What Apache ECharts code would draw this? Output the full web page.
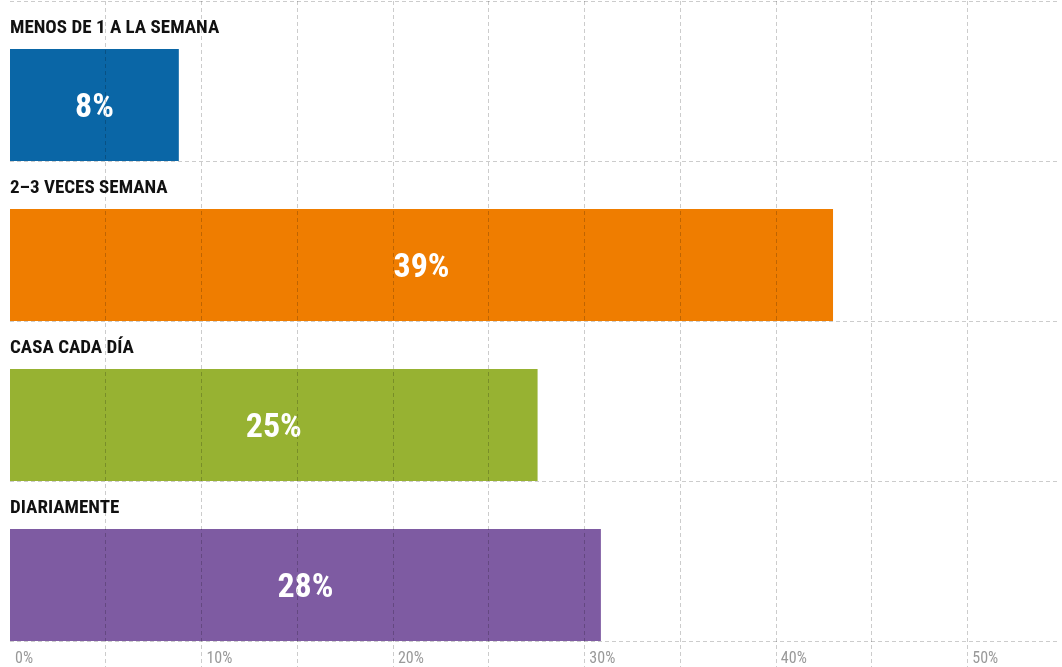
<!DOCTYPE html>
<html>
<head>
<meta charset="utf-8">
<script src="https://cdn.jsdelivr.net/npm/echarts@6/dist/echarts.min.js"></script>
<style>
  html, body { margin: 0; padding: 0; background: #fff; }
  #chart { width: 1062px; height: 667px; }
</style>
</head>
<body>
<div id="chart"></div>
<script>
const categories = ['MENOS DE 1 A LA SEMANA', '2–3 VECES SEMANA', 'CASA CADA DÍA', 'DIARIAMENTE'];
const values = [8, 39, 25, 28];
const colors = ['#0a66a6', '#ef7d00', '#97b232', '#7e5ba2'];

const font = '"Roboto Condensed", "DejaVu Sans Condensed", sans-serif';
const gridLine = { show: true, lineStyle: { color: 'rgba(0,0,0,0.2)', type: [4, 3], width: 1 } };

const chart = echarts.init(document.getElementById('chart'), null, { renderer: 'canvas' });

chart.setOption({
  animation: false,
  textStyle: { fontFamily: font },
  grid: [
    { left: 10, right: 0, top: 25, height: 640 },   // bars
    { left: 10, right: 0, top: 1, bottom: 0 }       // dashed guide lines
  ],
  xAxis: [
    // bars are drawn on a slightly different scale than the printed ticks
    { gridIndex: 0, type: 'value', min: 0, max: 49.85, show: false },
    {
      gridIndex: 1, type: 'value', min: 0, max: 54.79, interval: 5, z: 5,
      axisLine: { show: false }, axisTick: { show: false },
      splitLine: { ...gridLine, showMinLine: false, showMaxLine: false },
      axisLabel: {
        inside: true, margin: 0, align: 'left', padding: [0, 0, 0, 5],
        color: '#999', fontSize: 16, fontFamily: font,
        formatter: v => (v % 10 === 0 ? v + '%' : '')
      }
    }
  ],
  yAxis: [
    {
      gridIndex: 0, type: 'category', inverse: true, data: categories,
      axisLine: { show: false }, axisTick: { show: false }, axisLabel: { show: false }
    },
    {
      gridIndex: 1, type: 'value', inverse: true, min: 0, max: 4.1625, interval: 1, z: 5,
      axisLine: { show: false }, axisTick: { show: false }, axisLabel: { show: false },
      splitLine: { ...gridLine, showMaxLine: false }
    }
  ],
  series: [
    {
      type: 'bar',
      xAxisIndex: 0,
      yAxisIndex: 0,
      barWidth: 112,
      data: values.map((v, i) => ({ value: v, itemStyle: { color: colors[i] } })),
      label: {
        show: true, position: 'inside', offset: [0, 3], formatter: '{c}%',
        color: '#fff', fontSize: 34, fontWeight: 'bold', fontFamily: font
      }
    },
    {
      // invisible twin bars, only used to print the category name above each bar
      type: 'bar',
      xAxisIndex: 0,
      yAxisIndex: 0,
      barWidth: 112,
      barGap: '-100%',
      silent: true,
      data: values,
      itemStyle: { color: 'rgba(0,0,0,0)' },
      label: {
        show: true, position: [0, -21], align: 'left', verticalAlign: 'middle',
        formatter: p => p.name,
        color: '#111', fontSize: 19, fontWeight: 'bold', fontFamily: font
      }
    }
  ]
});
</script>
</body>
</html>
